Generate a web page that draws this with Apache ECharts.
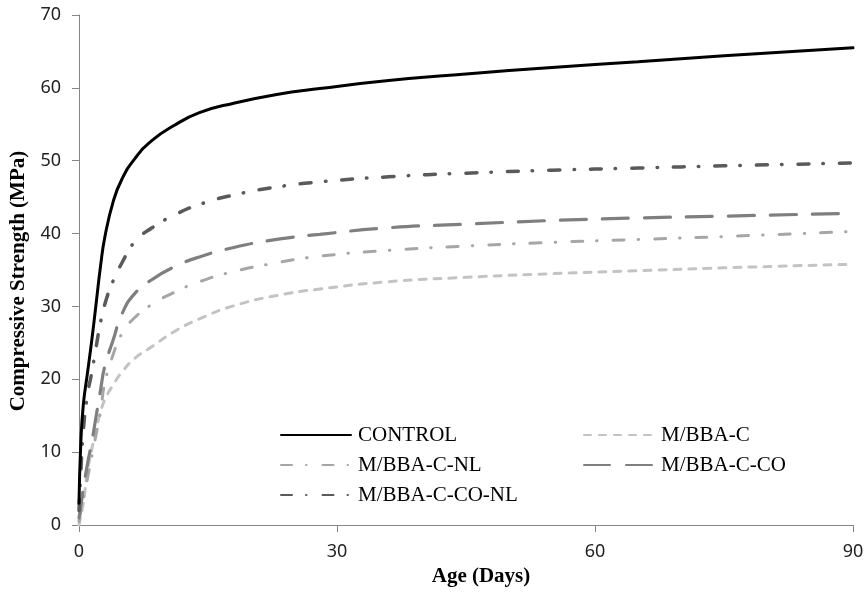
<!DOCTYPE html>
<html><head><meta charset="utf-8">
<script src="https://cdn.jsdelivr.net/npm/echarts@6/dist/echarts.min.js"></script>
<style>html,body{margin:0;padding:0;background:#fff}#c{width:867px;height:592px}</style>
</head><body><div id="c"></div>
<script>
// Age in days (x) at which each curve was read
const days     = [0, 0.2, 0.5, 1, 1.5, 2, 2.5, 3, 4, 5, 6.5, 8.5, 11, 14, 18, 23, 28, 36, 45, 55, 65, 75, 90];
// Compressive strength (MPa)
const control  = [3, 11, 16.5, 21, 25.5, 30.5, 35.5, 39.5, 44.5, 47.5, 50.3, 52.8, 54.8, 56.6, 57.9, 59.1, 59.9, 61, 61.9, 62.8, 63.6, 64.4, 65.5];
const bbaC     = [0, 1.2, 3, 7.5, 10.5, 13.2, 15.5, 17.2, 19.3, 21, 22.9, 24.5, 26.5, 28.3, 30.1, 31.5, 32.4, 33.4, 34, 34.5, 34.9, 35.3, 35.8];
const bbaCNL   = [0.5, 1.8, 3.5, 6.5, 9.5, 12.5, 15.5, 19.5, 23.5, 26.3, 28.5, 30.3, 31.9, 33.4, 34.8, 36, 36.9, 37.7, 38.3, 38.8, 39.2, 39.6, 40.3];
const bbaCCO   = [1, 2.5, 5, 8.5, 11.5, 15, 18.5, 21.8, 25.5, 29, 31.8, 33.7, 35.4, 36.8, 38.1, 39.2, 39.9, 40.8, 41.3, 41.8, 42.15, 42.4, 42.8];
const bbaCCONL = [2, 7, 13, 18, 21, 24.5, 27.8, 30.3, 33.6, 36, 38.9, 40.8, 42.5, 44, 45.3, 46.4, 47.1, 47.8, 48.3, 48.7, 49, 49.3, 49.7];
const seriesNames = ['CONTROL', 'M/BBA-C', 'M/BBA-C-NL', 'M/BBA-C-CO', 'M/BBA-C-CO-NL'];
const xTicks = [0, 30, 60, 90];
const yTicks = [0, 10, 20, 30, 40, 50, 60, 70];

function pairs(v) { return days.map((d, i) => [d, v[i]]); }
function mk(name, values, color, width, dash, z) {
  return {
    name: name, type: 'line', data: pairs(values), symbol: 'none', showSymbol: false,
    smooth: 0.5, z: z,
    lineStyle: { color: color, width: width, type: dash, cap: 'round' },
    itemStyle: { color: color }
  };
}
const chart = echarts.init(document.getElementById('c'), null, { renderer: 'canvas' });
const legendText = { fontFamily: 'Liberation Serif', fontSize: 21, color: '#000', padding: [0, 0, 0, 2] };
const legendBase = { orient: 'vertical', top: 424.5, padding: 0, itemGap: 9, itemWidth: 70, itemHeight: 14,
  selectedMode: false, textStyle: legendText, itemStyle: { opacity: 0, borderWidth: 0 } };
chart.setOption({
  animation: false,
  backgroundColor: '#fff',
  grid: { left: 79, right: 14, top: 15, bottom: 59, containLabel: false },
  legend: [
    Object.assign({}, legendBase, { left: 280, data: [seriesNames[0], seriesNames[2], seriesNames[4]] }),
    Object.assign({}, legendBase, { left: 583, data: [seriesNames[1], seriesNames[3]] })
  ],
  xAxis: {
    type: 'value', min: xTicks[0], max: xTicks[xTicks.length - 1], interval: 30,
    name: 'Age (Days)', nameLocation: 'middle', nameGap: 38,
    nameTextStyle: { fontFamily: 'Liberation Serif', fontWeight: 'bold', fontSize: 21, color: '#000', padding: [0, 0, 0, 30] },
    axisLine: { show: true, lineStyle: { color: '#868686', width: 1 } },
    axisTick: { show: true, length: 7, lineStyle: { color: '#868686' } },
    axisLabel: { fontFamily: 'Noto Sans', fontSize: 18, color: '#222', margin: 18 },
    splitLine: { show: false }
  },
  yAxis: {
    type: 'value', min: yTicks[0], max: yTicks[yTicks.length - 1], interval: 10,
    name: 'Compressive Strength (MPa)', nameLocation: 'middle', nameGap: 47, nameRotate: 90,
    nameTextStyle: { fontFamily: 'Liberation Serif', fontWeight: 'bold', fontSize: 21, color: '#000', padding: [0, 22, 0, 0] },
    axisLine: { show: true, lineStyle: { color: '#868686', width: 1 } },
    axisTick: { show: true, length: 7, lineStyle: { color: '#868686' } },
    axisLabel: { fontFamily: 'Noto Sans', fontSize: 18, color: '#222', margin: 18 },
    splitLine: { show: false }
  },
  series: [
    mk(seriesNames[0], control, '#000000', 3, 'solid', 6),
    mk(seriesNames[1], bbaC, '#c3c3c3', 3, [7, 8], 2),
    mk(seriesNames[2], bbaCNL, '#a6a6a6', 3, [11, 14, 0.5, 16], 3),
    mk(seriesNames[3], bbaCCO, '#7f7f7f', 3.2, [26, 16], 4),
    mk(seriesNames[4], bbaCCONL, '#5a5a5a', 3.5, [11, 14, 0.5, 16], 5)
  ]
});
</script></body></html>
